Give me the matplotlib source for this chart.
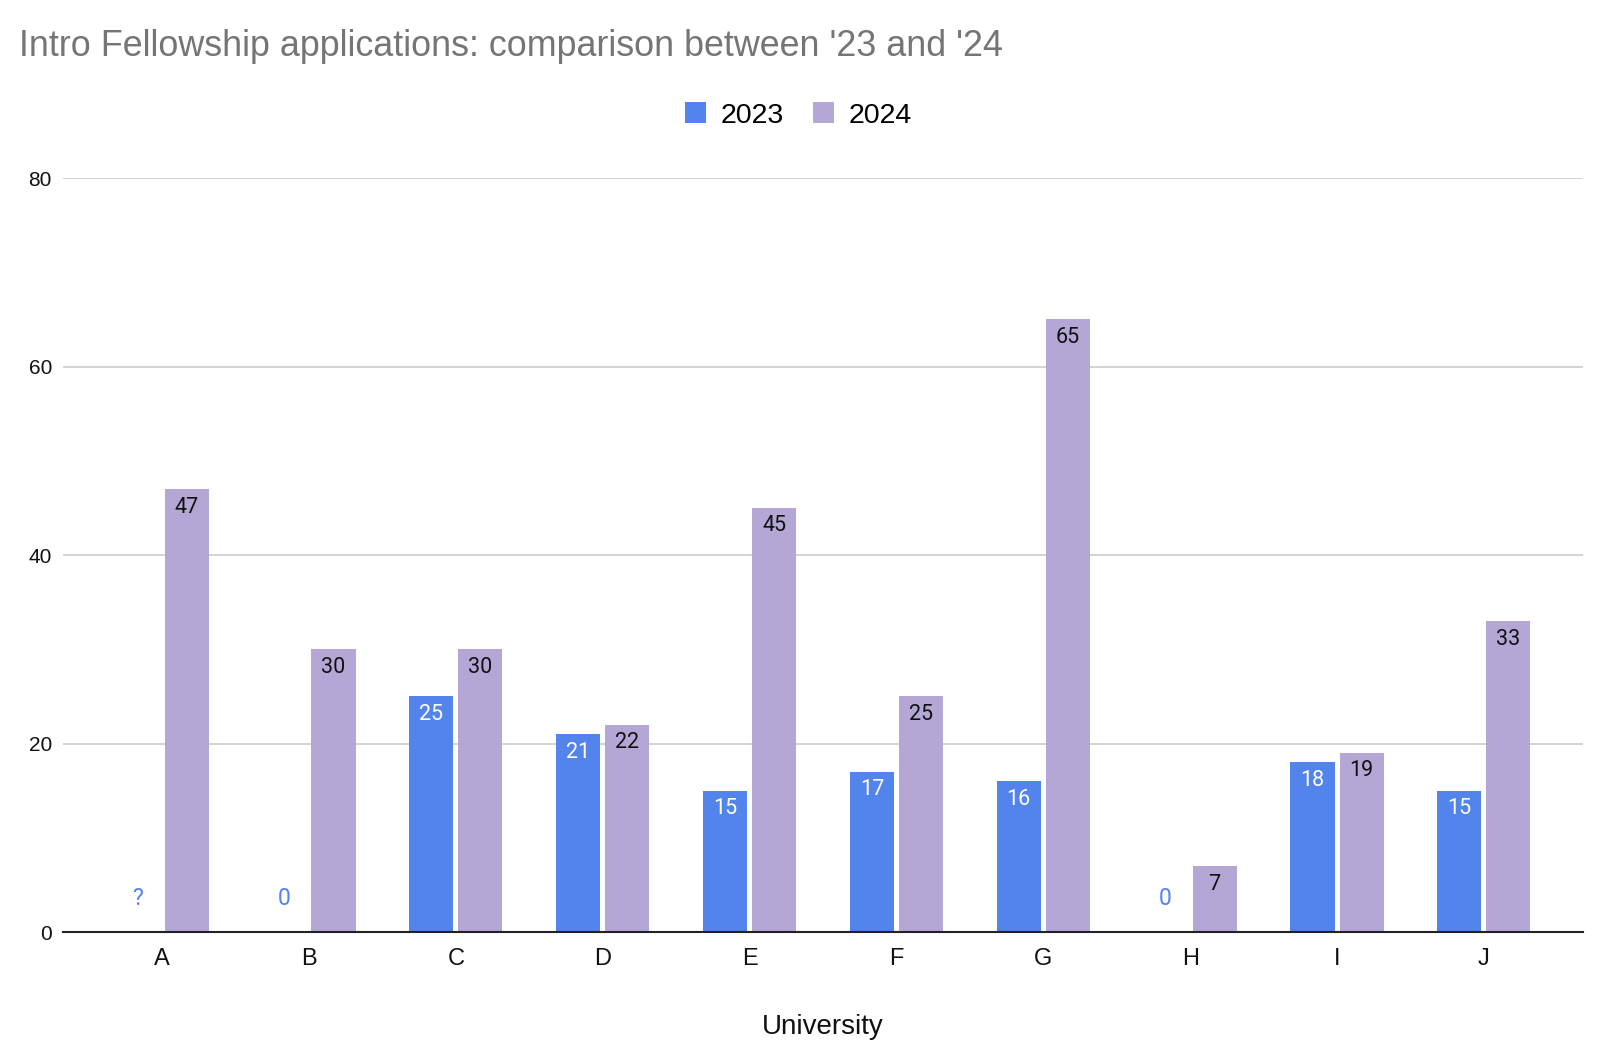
import numpy as np
import matplotlib
matplotlib.use("Agg")
import matplotlib.pyplot as plt

plt.rcParams["font.family"] = ["Liberation Sans", "DejaVu Sans"]

universities = ["A", "B", "C", "D", "E", "F", "G", "H", "I", "J"]
apps_2023 = [0, 0, 25, 21, 15, 17, 16, 0, 18, 15]
labels_2023 = ["?", "0", "25", "21", "15", "17", "16", "0", "18", "15"]
apps_2024 = [47, 30, 30, 22, 45, 25, 65, 7, 19, 33]

blue = "#5384ec"
purple = "#b4a7d6"

fig = plt.figure(figsize=(16, 10.6), dpi=100)
ax = fig.add_axes([63 / 1600, 1 - 932 / 1060, 1520 / 1600, 754 / 1060])

x = np.arange(len(universities))
w = 0.30
off = 0.167
b1 = ax.bar(x - off, apps_2023, w, color=blue, label="2023", zorder=3)
b2 = ax.bar(x + off, apps_2024, w, color=purple, label="2024", zorder=3)

# data labels inside bar tops
for xi, v, lab in zip(x - off, apps_2023, labels_2023):
    if v > 0:
        ax.annotate(lab, (xi, v), xytext=(0, -13), textcoords="offset points",
                    ha="center", va="center", fontsize=15.5, color="white",
                    family="Roboto", zorder=4)
    else:
        ax.annotate(lab, (xi, 0), xytext=(0, 24), textcoords="offset points",
                    ha="center", va="center", fontsize=16.5, color=blue,
                    family="Roboto", zorder=4)
for xi, v in zip(x + off, apps_2024):
    ax.annotate(str(v), (xi, v), xytext=(0, -13), textcoords="offset points",
                ha="center", va="center", fontsize=15.5, color="#111111",
                family="Roboto", zorder=4)

ax.set_xlim(-0.675, len(universities) - 1 + 0.675)
ax.set_ylim(0, 80)
ax.set_yticks([0, 20, 40, 60, 80])
ax.set_xticks(x)
ax.set_xticklabels(universities)
ax.tick_params(axis="x", length=0, pad=11.5, labelsize=17, colors="#111111")
ax.tick_params(axis="y", length=0, pad=8, labelsize=15, colors="#111111")
ax.grid(axis="y", color="#cccccc", linewidth=1.2, zorder=0)
for s in ["top", "right", "left"]:
    ax.spines[s].set_visible(False)
ax.spines["bottom"].set_color("#222222")
ax.spines["bottom"].set_linewidth(1.5)
ax.spines["bottom"].set_zorder(5)

ax.set_xlabel("University", fontsize=20, color="#111111", labelpad=32)

fig.text(19 / 1600, 1 - 56 / 1060,
         "Intro Fellowship applications: comparison between '23 and '24",
         fontsize=25.8, color="#757575", ha="left", va="baseline")

fig.legend(handles=[b1, b2], labels=["2023", "2024"], loc="center",
           bbox_to_anchor=(798.5 / 1600, 1 - 115.5 / 1060), ncol=2,
           frameon=False, fontsize=20.5, handlelength=0.74, handleheight=0.74,
           handletextpad=0.53, columnspacing=1.0)

fig.savefig("out.png", dpi=100)
